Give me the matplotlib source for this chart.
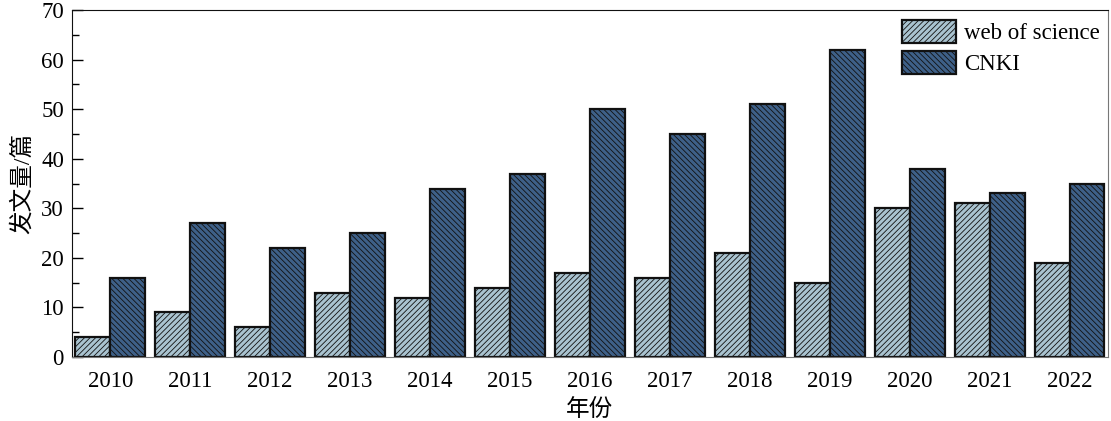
import numpy as np
import matplotlib.pyplot as plt
from matplotlib.ticker import MultipleLocator

plt.rcParams['font.family'] = ['Liberation Serif', 'Noto Sans CJK SC']
plt.rcParams['hatch.linewidth'] = 0.6

years = ['2010', '2011', '2012', '2013', '2014', '2015', '2016',
         '2017', '2018', '2019', '2020', '2021', '2022']
wos = [4, 9, 6, 13, 12, 14, 17, 16, 21, 15, 30, 31, 19]
cnki = [16, 27, 22, 25, 34, 37, 50, 45, 51, 62, 38, 33, 35]

x = np.arange(len(years))
w = 0.435

fig = plt.figure(figsize=(11.11, 4.21), dpi=100)
ax = fig.add_axes([0.065, 0.152, 0.932, 0.824])

ax.bar(x - w / 2, wos, w, color='#a9c3d0', edgecolor='#111111',
       linewidth=1.6, hatch='//////', label='web of science')
ax.bar(x + w / 2, cnki, w, color='#3e6088', edgecolor='#111111',
       linewidth=1.6, hatch='\\\\\\\\\\\\', label='CNKI')

ax.set_xlim(-0.475, len(years) - 1 + 0.475)
ax.set_ylim(0, 70)
ax.set_xticks(x)
ax.set_xticklabels(years)
ax.yaxis.set_major_locator(MultipleLocator(10))
ax.yaxis.set_minor_locator(MultipleLocator(5))
ax.tick_params(axis='y', which='major', direction='in', length=8, width=1, labelsize=16.5, pad=6)
ax.tick_params(axis='y', which='minor', direction='in', length=5, width=1)
ax.tick_params(axis='x', length=0, labelsize=16.5, pad=10)

for s in ['left', 'top']:
    ax.spines[s].set_color('#111111')
for s in ['right', 'bottom']:
    ax.spines[s].set_color('#777777')

ax.set_xlabel('年份', fontsize=17, labelpad=5)
ax.set_ylabel('发文量/篇', fontsize=17, labelpad=5)

ax.legend(loc='upper right', fontsize=16.5, frameon=False,
          bbox_to_anchor=(0.997, 0.985), borderaxespad=0, borderpad=0.2,
          handlelength=2.35, handleheight=1.15, handletextpad=0.35,
          labelspacing=0.3)

fig.savefig('out.png', dpi=100)
